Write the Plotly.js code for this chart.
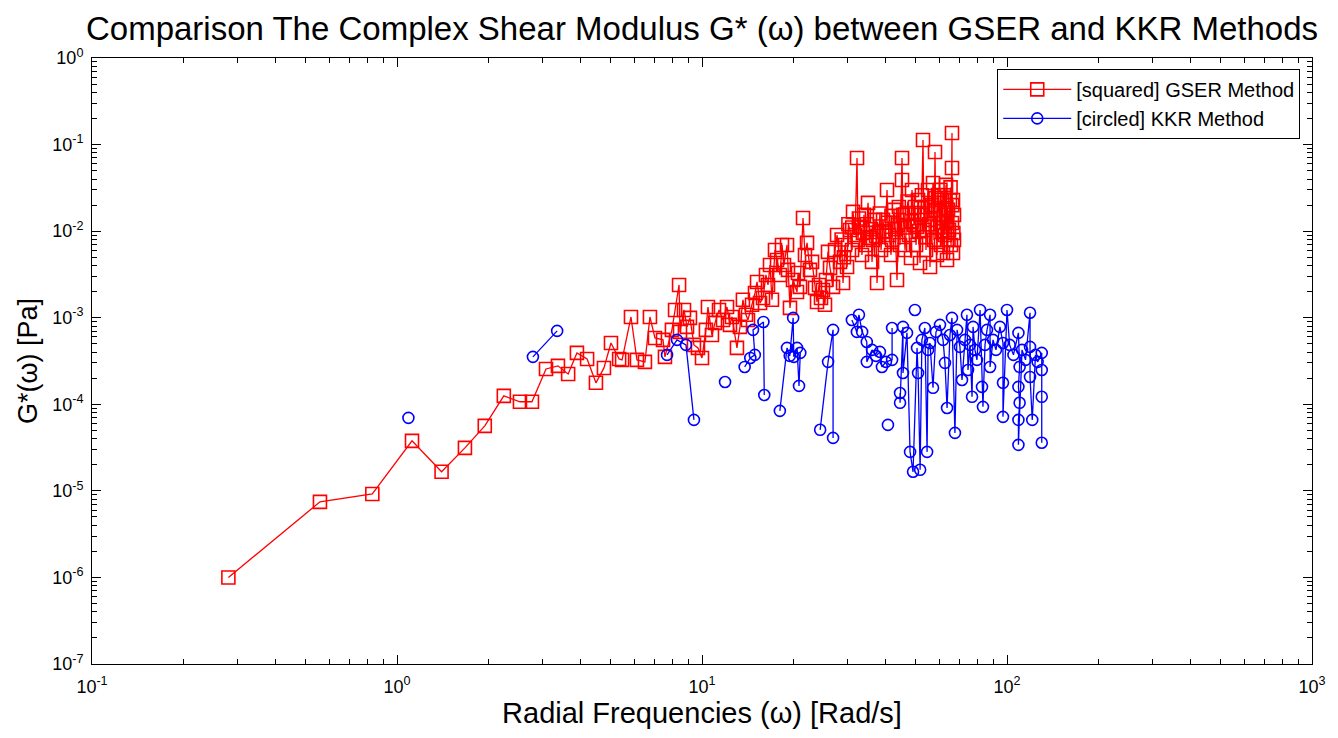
<!DOCTYPE html>
<html>
<head>
<meta charset="utf-8">
<script src="https://cdn.plot.ly/plotly-3.0.1.min.js"></script>
<style>html,body{margin:0;padding:0;background:#fff;}#chart{width:1338px;height:738px;}</style>
</head>
<body>
<div id="chart"></div>
<script>
// GSER method: radial frequency (rad/s) and |G*| (Pa)
const gserFreq = [
  0.28, 0.559, 0.83, 1.12, 1.40, 1.67, 1.94, 2.24, 2.53, 2.77,
  3.08, 3.37, 3.64, 3.89, 4.20, 4.49, 4.77, 5.03, 5.35, 5.47,
  5.85, 6.12, 6.50, 6.75, 7.01, 7.45, 7.56, 7.97, 8.16, 8.41,
  8.47, 8.73, 8.93, 9.13, 9.41, 9.70, 10.0, 10.3, 10.46, 10.78,
  11.03, 11.37, 11.72, 12.08, 12.35, 12.54, 13.02, 13.32, 13.62, 13.94,
  14.15, 14.59, 14.92, 15.15, 15.50, 15.85, 16.21, 16.46, 16.71, 16.96,
  17.35, 17.62, 18.02, 18.29, 18.57, 19.00, 19.14, 19.43, 19.88, 20.49,
  20.64, 20.96, 21.44, 21.76, 22.10, 22.60, 22.95, 23.47, 23.83, 24.19,
  24.56, 24.93, 25.31, 25.50, 25.89, 26.29, 26.89, 27.30, 27.72,
  28.35, 28.7, 29.00, 29.2, 29.44, 29.89, 30.2, 30.57, 31.04, 31.1,
  31.27, 31.75, 32.23, 32.48, 32.7, 32.96, 33.46, 33.7, 33.97, 34.49,
  34.7, 35.02, 35.55, 35.8, 36.10, 36.37, 36.92, 37.2, 37.49, 38.05,
  38.3, 38.64, 39.22, 39.5, 39.81, 40.42, 40.7, 41.04, 41.67, 41.8,
  41.98, 42.62, 43.0, 43.59, 43.92, 44.2, 44.60, 45.27, 45.61, 45.27,
  45.9, 46.31, 47.01, 47.3, 47.73, 48.45, 48.6, 48.82, 49.56, 49.9,
  50.32, 50.70, 51.08, 51.5, 51.86, 52.24, 52.6, 53.04, 53.44, 53.84,
  54.0, 54.25, 54.6, 55.08, 55.5, 55.92, 56.34, 56.8, 57.20, 57.64,
  58.07, 58.3, 58.51, 58.96, 59.2, 59.40, 60.31, 60.5, 60.76, 61.22,
  61.4, 61.69, 62.15, 62.4, 62.62, 63.10, 63.3, 63.58, 64.06, 64.3,
  64.54, 65.03, 65.3, 65.52, 66.02, 66.02, 66.2, 66.02, 66.52, 66.7,
  66.52, 67.02, 67.02
];
const gserModulus = [
  1.0e-6, 7.46e-6, 9.2e-6, 3.78e-5, 1.66e-5, 3.14e-5, 5.63e-5, 1.25e-4, 1.07e-4, 1.07e-4,
  2.56e-4, 2.78e-4, 2.24e-4, 3.92e-4, 3.34e-4, 1.77e-4, 2.63e-4, 5.11e-4, 3.34e-4, 3.26e-4,
  1.02e-3, 3.26e-4, 3.09e-4, 1.02e-3, 5.84e-4, 5.55e-4, 3.53e-4, 7.24e-4, 1.23e-3, 2.39e-3,
  6.86e-4, 1.23e-3, 7.83e-4, 9.95e-4, 4.85e-4, 4.48e-4, 3.43e-4, 7.24e-4, 1.33e-3, 6.32e-4,
  8.72e-4, 1.23e-3, 9.42e-4, 1.33e-3, 8.27e-4, 1.02e-3, 4.48e-4, 7.83e-4, 1.61e-3, 1.08e-3,
  9.42e-4, 1.41e-3, 1.93e-3, 2.59e-3, 1.48e-3, 1.69e-3, 3.12e-3, 2.39e-3, 4.07e-3, 1.61e-3,
  6.06e-3, 4.65e-3, 3.12e-3, 6.93e-3, 4.07e-3, 6.93e-3, 3.57e-3, 1.30e-3, 2.73e-3, 1.98e-3,
  3.29e-3, 2.27e-3, 1.42e-2, 5.31e-3, 7.32e-3, 3.57e-3, 4.41e-3, 2.21e-3, 1.52e-3, 2.39e-3,
  1.69e-3, 2.09e-3, 1.41e-3, 2.73e-3, 5.76e-3, 3.76e-3, 2.27e-3, 6.06e-3, 9.01e-3,
  4.41e-3, 8.0e-3, 2.52e-3, 5.0e-3, 6.93e-3, 3.86e-3, 1.2e-2, 1.03e-2, 6.06e-3, 1.1e-2,
  1.67e-2, 9.01e-3, 7.0e-2, 7.92e-3, 1.4e-2, 1.12e-2, 5.31e-3, 9.5e-3, 1.54e-2, 6.93e-3,
  1.2e-2, 2.12e-2, 8.35e-3, 1.05e-2, 4.41e-3, 7.92e-3, 1.35e-2, 8.8e-3, 2.52e-3, 9.78e-3,
  1.6e-2, 6.06e-3, 1.35e-2, 1.0e-2, 6.93e-3, 2.99e-2, 1.25e-2, 9.01e-3, 5.31e-3, 1.5e-2,
  7.92e-3, 1.76e-2, 1.05e-2, 2.73e-3, 1.18e-2, 1.9e-2, 6.93e-3, 7.0e-2, 1.54e-2, 3.90e-2,
  1.1e-2, 6.06e-3, 1.62e-2, 2.2e-2, 9.01e-3, 4.9e-3, 1.3e-2, 2.99e-2, 1.18e-2, 1.9e-2,
  6.93e-3, 1.12e-2, 2.29e-2, 1.0e-2, 4.29e-3, 1.54e-2, 2.6e-2, 0.113, 1.03e-2, 1.90e-2,
  8.5e-3, 6.06e-3, 1.6e-2, 2.99e-2, 1.2e-2, 3.86e-3, 1.35e-2, 2.0e-2, 3.60e-2, 7.92e-3,
  8.2e-2, 2.4e-2, 1.76e-2, 5.31e-3, 1.1e-2, 2.62e-2, 1.24e-2, 3.0e-2, 6.93e-3, 2.29e-2,
  1.0e-2, 5.6e-3, 1.54e-2, 2.6e-2, 9.01e-3, 3.42e-2, 1.3e-2, 4.65e-3, 1.76e-2, 8.0e-3,
  1.03e-2, 2.29e-2, 3.2e-2, 6.93e-3, 0.136, 5.37e-2, 2.0e-2, 1.24e-2, 2.29e-2, 9.5e-3,
  5.6e-3, 7.92e-3, 1.54e-2
];

// KKR method (null = break in the curve)
const kkrFreq = [
  1.09, null,
  2.79, 3.35, null,
  7.68, 8.28, 8.86, 9.41, null,
  11.9, null,
  13.8, 14.4, 14.9, 14.7, 15.9, 16.0, null,
  18.0, 19.0, 19.4, 19.9, 20.0, 20.5, 20.8, 21.0, null,
  24.4, 25.9, 26.9, 26.9, null,
  31.0, 32.2, 32.7, 33.5, 34.7, 34.7, 36.1, 37.2, 38.3, 38.9, 40.1, 42.0, 42.0, null,
  40.7, null,
  49.9, null,
  44.6, 44.6, 45.6, 45.6, 47.0, 48.1, 49.2, 50.7, 51.1, 51.9,
  52.6, 53.8, 54.7, 55.1, 55.9, 57.2, 58.5, 60.3, 61.7, 62.6,
  63.6, 65.0, 66.0, 67.5, 68.6, 70.1, 71.2, 72.8, 73.9, 74.5,
  75.6, 76.8, 77.4, 78.5, 79.7, 81.6, 82.8, 83.4, 84.7, 86.0,
  88.0, 88.0, 90.0, 92.0, 94.8, 97.0, 97.0, 97.0, 100, 102,
  105, 109, 110, 109, 110, 109, 109, 112, 115, 119,
  119, 119, 121, 124, 126, 130, 130, 130, 130
];
const kkrModulus = [
  6.97e-5, null,
  3.53e-4, 7.04e-4, null,
  3.72e-4, 5.55e-4, 4.85e-4, 6.60e-5, null,
  1.81e-4, null,
  2.70e-4, 3.43e-4, 3.72e-4, 7.24e-4, 8.94e-4, 1.28e-4, null,
  8.39e-5, 4.48e-4, 3.62e-4, 9.95e-4, 3.53e-4, 4.48e-4, 1.63e-4, 3.92e-4, null,
  5.07e-5, 3.09e-4, 7.24e-4, 4.09e-5, null,
  9.42e-4, 6.86e-4, 1.08e-3, 6.86e-4, 5.25e-4, 3.09e-4, 4.25e-4, 3.62e-4, 4.03e-4, 2.70e-4, 3.09e-4, 3.26e-4, 7.6e-4, null,
  5.78e-5, null,
  1.23e-3, null,
  1.35e-4, 1.04e-4, 7.83e-4, 2.30e-4, 6.68e-4, 2.82e-5, 1.66e-5, 4.48e-4, 2.30e-4, 1.75e-5,
  5.55e-4, 7.6e-4, 2.82e-5, 4.25e-4, 5.11e-4, 1.55e-4, 6.86e-4, 8.27e-4, 5.55e-4, 3.01e-4,
  9.07e-5, 6.32e-4, 9.95e-4, 4.67e-5, 7.24e-4, 4.6e-4, 1.91e-4, 5.55e-4, 1.08e-3, 2.49e-4,
  4.85e-4, 1.22e-4, 7.83e-4, 4.25e-4, 3.26e-4, 1.23e-3, 1.59e-4, 9.34e-5, 4.85e-4, 7.24e-4,
  1.08e-3, 2.70e-4, 5.55e-4, 4.25e-4, 7.83e-4, 5.11e-4, 1.77e-4, 7.16e-5, 1.23e-3, 4.85e-4,
  3.72e-4, 6.68e-4, 2.70e-4, 1.59e-4, 1.04e-4, 6.6e-5, 3.40e-5, 4.25e-4, 3.26e-4, 1.14e-3,
  4.6e-4, 2.07e-4, 6.6e-5, 3.72e-4, 3.09e-4, 3.92e-4, 2.49e-4, 1.22e-4, 3.59e-5
];

// Tick values and labels
const xTickVals = [0.1, 1, 10, 100, 1000];
const xTickText = ['10<sup>-1</sup>', '10<sup>0</sup>', '10<sup>1</sup>', '10<sup>2</sup>', '10<sup>3</sup>'];
const yTickVals = [1e-7, 1e-6, 1e-5, 1e-4, 1e-3, 1e-2, 1e-1, 1];
const yTickText = ['10<sup>-7</sup>', '10<sup>-6</sup>', '10<sup>-5</sup>', '10<sup>-4</sup>',
                   '10<sup>-3</sup>', '10<sup>-2</sup>', '10<sup>-1</sup>', '10<sup>0</sup>'];

const seriesNames = ['[squared] GSER Method', '[circled] KKR Method'];
const titleText = 'Comparison The Complex Shear Modulus G* (ω) between GSER and KKR Methods';
const xTitle = 'Radial Frequencies (ω) [Rad/s]';
const yTitle = 'G*(ω) [Pa]';

const FONT = 'Liberation Sans, Arial, sans-serif';

// minor tick positions (2..9 within each decade) for the log axes
function minorTicks(vals) {
  const out = [];
  for (let i = 0; i < vals.length - 1; i++) {
    for (let d = 2; d <= 9; d++) out.push(vals[i] * d);
  }
  return out;
}

const traces = [
  {
    x: gserFreq, y: gserModulus, name: seriesNames[0],
    type: 'scatter', mode: 'lines+markers',
    line: {color: '#ff0000', width: 1.3},
    marker: {symbol: 'square-open', size: 13, color: '#ff0000', line: {width: 1.6, color: '#ff0000'}}
  },
  {
    x: kkrFreq, y: kkrModulus, name: seriesNames[1],
    type: 'scatter', mode: 'lines+markers', connectgaps: false,
    line: {color: '#0000ff', width: 1.3},
    marker: {symbol: 'circle-open', size: 11, color: '#0000ff', line: {width: 1.6, color: '#0000ff'}}
  }
];

function axisCommon(vals, text) {
  return {
    type: 'log', tickmode: 'array', tickvals: vals, ticktext: text,
    showline: true, linecolor: '#000', linewidth: 1, mirror: 'ticks',
    ticks: 'inside', ticklen: 9, tickwidth: 1, tickcolor: '#000',
    minor: {tickmode: 'array', tickvals: minorTicks(vals), ticks: 'inside', ticklen: 5,
            tickwidth: 1, tickcolor: '#000', showgrid: false},
    showgrid: false, zeroline: false,
    tickfont: {family: FONT, size: 18, color: '#000'}
  };
}

const layout = {
  width: 1338, height: 738,
  paper_bgcolor: '#fff', plot_bgcolor: '#fff',
  margin: {l: 92, r: 26, t: 58, b: 74},
  font: {family: FONT, color: '#000'},
  title: {text: titleText, font: {family: FONT, size: 33, color: '#000'},
          x: 0.5, xref: 'paper', xanchor: 'center', y: 0.962, yref: 'container', yanchor: 'middle'},
  xaxis: Object.assign(axisCommon(xTickVals, xTickText), {
    range: [-1, 3], ticklabelstandoff: 6,
    title: {text: xTitle, font: {family: FONT, size: 29, color: '#000'}, standoff: 4}
  }),
  yaxis: Object.assign(axisCommon(yTickVals, yTickText), {
    range: [-7, 0], ticklabelstandoff: 4,
    title: {text: yTitle, font: {family: FONT, size: 27, color: '#000'}, standoff: 6}
  }),
  showlegend: true,
  legend: {x: 0.742, y: 0.982, xanchor: 'left', yanchor: 'top',
           bgcolor: '#fff', bordercolor: '#000', borderwidth: 1, itemwidth: 68,
           font: {family: FONT, size: 20, color: '#000'}, tracegroupgap: 0}
};

Plotly.newPlot('chart', traces, layout, {displayModeBar: false, staticPlot: true});
</script>
</body>
</html>
